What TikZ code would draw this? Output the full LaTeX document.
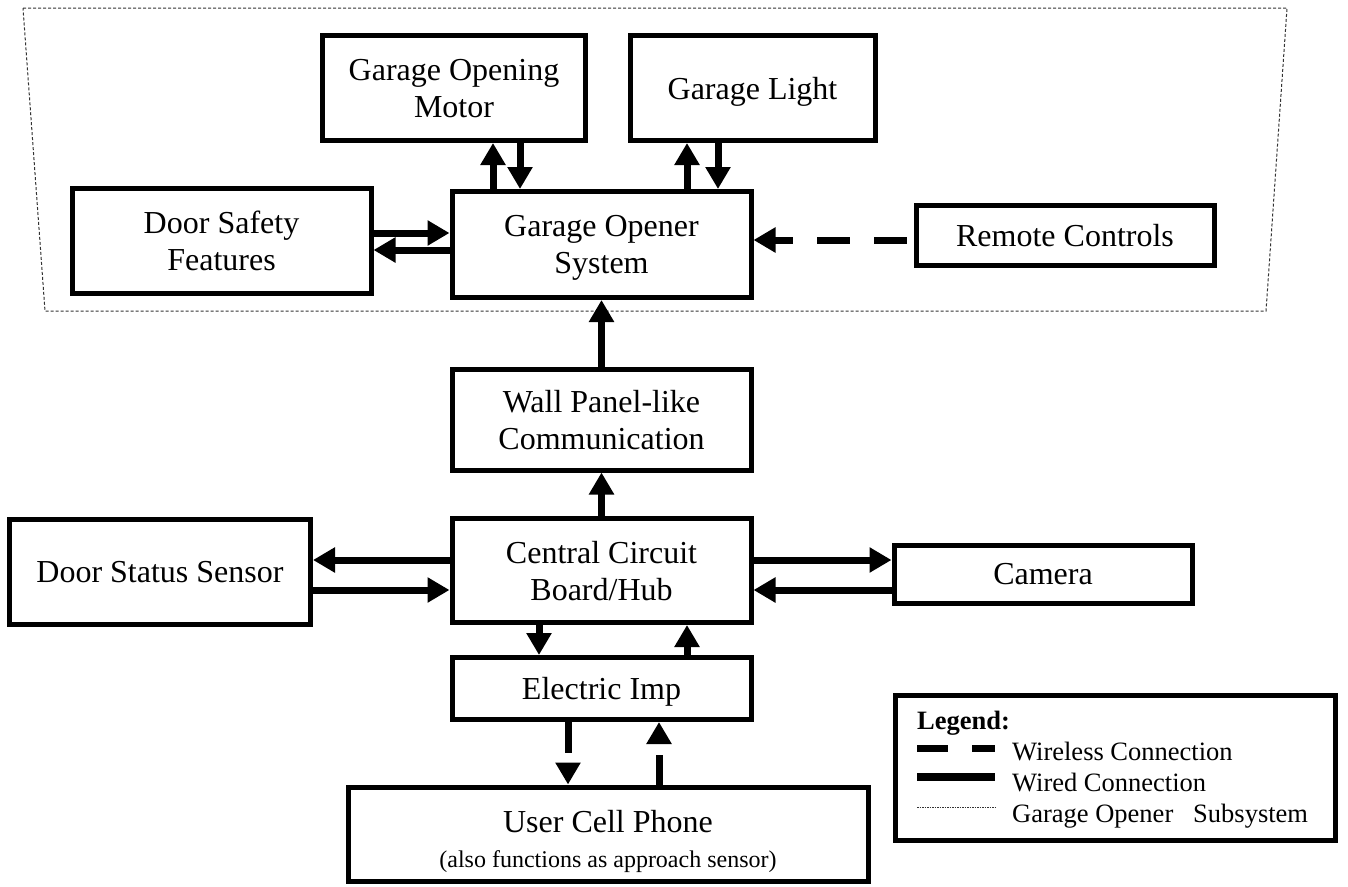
\documentclass[tikz,border=0pt]{standalone}
\usepackage{fontspec}
\setmainfont{Liberation Serif}
\usetikzlibrary{arrows.meta}
\begin{document}
\begin{tikzpicture}[x=1pt,y=-1pt,
 box/.style={draw, line width=5pt, inner sep=0pt, align=center, text depth=0pt, font=\fontsize{32}{37}\selectfont},
 wired/.style={line width=7pt, -{Triangle[length=22pt,width=24pt]}},
 wless/.style={line width=7pt, -{Triangle[length=22pt,width=24pt]}},
 legtext/.style={anchor=base west, inner sep=0pt, font=\fontsize{26.5}{30}\selectfont},
 subsys/.style={draw=black!80, line width=1pt, dash pattern=on 3pt off 2pt}]
\useasboundingbox (0,0) rectangle (1348,886);
\fill[white] (0,0) rectangle (1348,886);
% subsystem boundary
\draw[subsys] (23,8) -- (1287,8) -- (1266,311) -- (45,311) -- cycle;
% boxes
\node[box, minimum width=263pt, minimum height=105pt] (motor) at (454,88) {Garage Opening\\Motor};
\node[box, minimum width=245pt, minimum height=105pt] (light) at (752.5,88) {Garage Light};
\node[box, minimum width=299pt, minimum height=105pt] (safety) at (221.5,241) {Door Safety\\Features};
\node[box, minimum width=299pt, minimum height=106pt] (opener) at (601.5,244.5) {Garage Opener\\System};
\node[box, minimum width=298pt, minimum height=60pt] (remote) at (1065,235.5) {Remote Controls};
\node[box, minimum width=299pt, minimum height=100.5pt] (wall) at (601.5,419.75) {Wall Panel-like\\Communication};
\node[box, minimum width=299pt, minimum height=104pt] (hub) at (601.5,570.5) {Central Circuit\\Board/Hub};
\node[box, minimum width=301pt, minimum height=105pt] (status) at (160,572) {Door Status Sensor};
\node[box, minimum width=298pt, minimum height=58pt] (camera) at (1043,574) {Camera};
\node[box, minimum width=299pt, minimum height=62pt] (imp) at (601.5,688.5) {Electric Imp};
\node[box, minimum width=520pt, minimum height=94pt] (phone) at (608,834) {\rule{0pt}{31pt}User Cell Phone\\[-2pt]{\fontsize{24}{28}\selectfont (also functions as approach sensor)}};
\node[box, minimum width=440pt, minimum height=145pt] (legend) at (1115,767.5) {};
% connectors
\draw[wired] ([xshift=-108.5pt]opener.north) -- ([xshift=39pt]motor.south);
\draw[wired] ([xshift=66pt]motor.south) -- ([xshift=-81.5pt]opener.north);
\draw[wired] ([xshift=85.5pt]opener.north) -- ([xshift=-65.5pt]light.south);
\draw[wired] ([xshift=-34.5pt]light.south) -- ([xshift=116.5pt]opener.north);
\draw[wired] ([yshift=8pt]safety.east) -- ([yshift=11.5pt]opener.west);
\draw[wired] ([yshift=-5.5pt]opener.west) -- ([yshift=-9pt]safety.east);
\draw[wless, dash pattern=on 33pt off 24pt, dash phase=50pt] ([yshift=-4.5pt]remote.west) -- ([yshift=4.5pt]opener.east);
\draw[wired] (wall.north) -- (opener.south);
\draw[wired] (hub.north) -- (wall.south);
\draw[wired] ([yshift=10.5pt]hub.west) -- ([yshift=12pt]status.east);
\draw[wired] ([yshift=-18pt]status.east) -- ([yshift=-19.5pt]hub.west);
\draw[wired] ([yshift=10.5pt]hub.east) -- ([yshift=14pt]camera.west);
\draw[wired] ([yshift=-16pt]camera.west) -- ([yshift=-19.5pt]hub.east);
\draw[wired] ([xshift=-62.5pt]hub.south) -- ([xshift=-62.5pt]imp.north);
\draw[wired] ([xshift=85.5pt]imp.north) -- ([xshift=85.5pt]hub.south);
\draw[wless, dash pattern=on 31pt off 10pt] ([xshift=-33.5pt]imp.south) -- ([xshift=-40pt]phone.north);
\draw[wless, dash pattern=on 30pt off 12pt] ([xshift=51pt]phone.north) -- ([xshift=57.5pt]imp.south);
% legend
\node[legtext] (legtitle) at (917,729) {\bfseries Legend:};
\draw[line width=7pt, dash pattern=on 31pt off 24pt] (917,748) -- (995,748);
\draw[line width=8pt] (917,777) -- (995,777);
\draw[line width=0.8pt, draw=black!80, dash pattern=on 1.5pt off 1pt] (917,807) -- (995,807);
\node[legtext] (lwless) at (1012,760) {Wireless Connection};
\node[legtext] (lwired) at (1012,791) {Wired Connection};
\node[legtext] (lsub) at (1012,822) {Garage Opener\ \ \ Subsystem};
\end{tikzpicture}
\end{document}
